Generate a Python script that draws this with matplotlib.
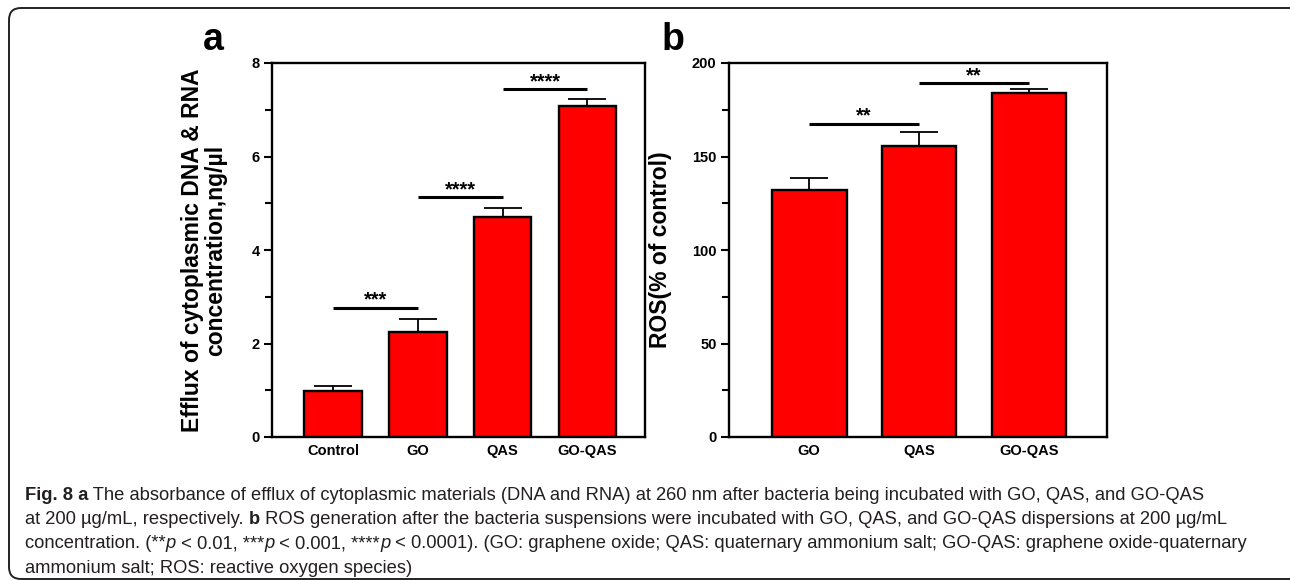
import matplotlib
matplotlib.use("Agg")
import matplotlib.pyplot as plt
from matplotlib.patches import FancyBboxPatch
from matplotlib.transforms import IdentityTransform
from matplotlib.ticker import MultipleLocator

# panel a: efflux of cytoplasmic DNA & RNA (ng/µl)
cats_a = ["Control", "GO", "QAS", "GO-QAS"]
efflux = [0.98, 2.25, 4.70, 7.08]
efflux_err = [0.12, 0.27, 0.20, 0.15]
sig_a = [(0, 1, 2.76, "***"), (1, 2, 5.13, "****"), (2, 3, 7.44, "****")]

# panel b: ROS (% of control)
cats_b = ["GO", "QAS", "GO-QAS"]
ros = [132.0, 155.5, 184.0]
ros_err = [6.5, 7.5, 2.2]
sig_b = [(0, 1, 167.5, "**"), (1, 2, 189.3, "**")]

caption = [
    [("Fig. 8 a", "bold", "normal"),
     (" The absorbance of efflux of cytoplasmic materials (DNA and RNA) at 260 nm after bacteria being incubated with GO, QAS, and GO-QAS", "normal", "normal")],
    [("at 200 µg/mL, respectively. ", "normal", "normal"), ("b", "bold", "normal"),
     (" ROS generation after the bacteria suspensions were incubated with GO, QAS, and GO-QAS dispersions at 200 µg/mL", "normal", "normal")],
    [("concentration. (**", "normal", "normal"), ("p", "normal", "italic"), (" < 0.01, ***", "normal", "normal"),
     ("p", "normal", "italic"), (" < 0.001, ****", "normal", "normal"), ("p", "normal", "italic"),
     (" < 0.0001). (GO: graphene oxide; QAS: quaternary ammonium salt; GO-QAS: graphene oxide-quaternary", "normal", "normal")],
    [("ammonium salt; ROS: reactive oxygen species)", "normal", "normal")],
]
caption_right = [1263, 1262, 1246, 9999]

plt.rcParams["font.family"] = ["Liberation Sans", "DejaVu Sans"]
plt.rcParams["font.weight"] = "bold"

W, H = 1290, 580
fig = plt.figure(figsize=(W / 100, H / 100), dpi=100)


def panel(rect, cats, vals, errs, ymax, major, sigs, ylabel, label_x, letter, letter_x, xpad):
    ax = fig.add_axes([rect[0] / W, 1 - rect[3] / H, (rect[2] - rect[0]) / W, (rect[3] - rect[1]) / H])
    x = range(len(cats))
    ax.bar(x, vals, width=0.68, color="#ff0000", edgecolor="black", linewidth=1.7, zorder=3)
    ax.errorbar(x, vals, yerr=[[0] * len(vals), errs], fmt="none", ecolor="black",
                elinewidth=1.3, capsize=13.5, capthick=1.3, zorder=2)
    for i, j, y, s in sigs:
        ax.plot([i, j], [y, y], color="black", lw=2.2, solid_capstyle="butt", zorder=4)
        ax.annotate(s, xy=((i + j) / 2, y), xytext=(0, 1.5), textcoords="offset points",
                    ha="center", va="baseline", fontsize=14.5, fontweight="bold")
    ax.set_ylim(0, ymax)
    ax.set_xlim(-xpad[0], len(cats) - 1 + xpad[1])
    ax.yaxis.set_major_locator(MultipleLocator(major))
    ax.yaxis.set_minor_locator(MultipleLocator(major / 2))
    ax.set_xticks(list(x))
    ax.set_xticklabels(cats, fontsize=10.5, fontweight="bold")
    ax.tick_params(axis="x", length=0, pad=5)
    ax.tick_params(axis="y", which="major", length=6, width=1.5, labelsize=10.5, pad=3)
    ax.tick_params(axis="y", which="minor", length=5, width=1.5)
    for sp in ax.spines.values():
        sp.set_linewidth(1.7)
    ax.set_ylabel(ylabel, fontsize=16.5, fontweight="bold", linespacing=1.0)
    ax.yaxis.set_label_coords((label_x - rect[0]) / (rect[2] - rect[0]), 0.5)
    fig.text(letter_x / W, 1 - 50 / H, letter, fontsize=27, fontweight="bold", ha="center", va="baseline")
    return ax


panel((272, 63, 645, 437), cats_a, efflux, efflux_err, 8, 2, sig_a,
      "Efflux of cytoplasmic DNA & RNA\nconcentration,ng/µl", 227, "a", 213, (0.72, 0.68))
panel((729, 63, 1107, 437), cats_b, ros, ros_err, 200, 50, sig_b,
      "ROS(% of control)", 672, "b", 673, (0.73, 0.71))

# rounded frame around the figure
frame = FancyBboxPatch((9, 1), 1400, 571, boxstyle="round,pad=0,rounding_size=12",
                       transform=IdentityTransform(), fill=False, edgecolor="#222222", linewidth=1.4)
fig.add_artist(frame)

# caption, written piece by piece so bold and italic parts can mix
cap_font = ["Liberation Sans Narrow", "Liberation Sans", "DejaVu Sans"]
renderer = fig.canvas.get_renderer()


def line_width(parts, size):
    total = 0
    for s, w, st in parts:
        t = fig.text(0, 0, s, fontsize=size, fontweight=w, fontstyle=st, family=cap_font)
        total += t.get_window_extent(renderer).width
        t.remove()
    return total


size = min(10 * (r - 25) / line_width(p, 10) for p, r in zip(caption, caption_right))
for k, parts in enumerate(caption):
    xpx = 25
    ypx = 495 + k * 24.5
    for s, w, st in parts:
        t = fig.text(xpx / W, 1 - ypx / H, s, fontsize=size, fontweight=w, fontstyle=st,
                     family=cap_font, color="#231f20", va="center", ha="left")
        xpx += t.get_window_extent(renderer).width

fig.savefig("out.png", dpi=100)
